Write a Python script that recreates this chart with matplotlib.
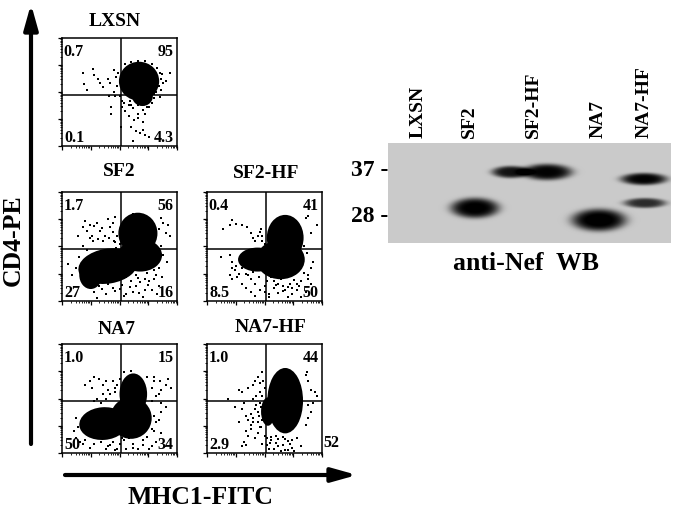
import numpy as np
import matplotlib
matplotlib.use("Agg")
import matplotlib.pyplot as plt
from matplotlib.patches import Ellipse

plt.rcParams['font.family'] = ['Liberation Serif', 'DejaVu Serif']
plt.rcParams['font.weight'] = 'bold'

# nombres de los paneles y porcentajes de cada cuadrante (UL, UR, LL, LR)
panel_names = ["LXSN", "SF2", "SF2-HF", "NA7", "NA7-HF"]
pct_ul = ["0.7", "1.7", "0.4", "1.0", "1.0"]
pct_ur = ["95", "56", "41", "15", "44"]
pct_ll = ["0.1", "27", "8.5", "50", "2.9"]
pct_lr = ["4.3", "16", "50", "34", "52"]

# zonas densas de eventos: (centro x, centro y, ancho, alto, angulo), en % del panel
dense_lxsn = [(67, 60, 35, 36, 0), (70, 46, 18, 18, 0)]
dense_sf2 = [(66, 62, 34, 38, 0), (68, 42, 38, 30, 0), (40, 32, 52, 32, 10), (25, 24, 20, 26, 0)]
dense_sf2hf = [(68, 58, 32, 42, 0), (64, 38, 42, 36, 0), (44, 38, 34, 22, 0)]
dense_na7 = [(62, 54, 24, 38, 0), (60, 32, 36, 38, 0), (36, 27, 42, 30, 5)]
dense_na7hf = [(68, 48, 31, 60, 0), (53, 38, 12, 26, 0)]

lxsn_x = [18, 27, 28, 19, 22, 31, 33, 36, 40, 45, 47, 42, 45, 41, 46, 43, 43, 51, 60, 55, 58, 62, 66, 70, 74, 78, 63, 66,
          70, 60, 64, 68, 72, 70, 62, 76, 87, 94, 90, 86, 85, 88, 49, 48, 50, 52, 55, 60, 66, 72, 78, 83, 85, 86, 84, 80,
          58, 54, 52, 76, 80, 82, 72, 66, 59]
lxsn_y = [68, 71, 66, 57, 52, 62, 58, 55, 62, 70, 64, 58, 50, 46, 46, 36, 30, 18, 38, 32, 28, 35, 30, 33, 36, 40, 24, 26,
          22, 18, 14, 12, 10, 15, 5, 8, 67, 68, 60, 52, 45, 58, 68, 56, 46, 42, 76, 78, 79, 79, 76, 72, 68, 62, 56, 48,
          38, 40, 36, 36, 44, 50, 30, 38, 42]
sf2_x = [14, 18, 20, 22, 24, 26, 28, 30, 33, 35, 37, 40, 42, 44, 46, 24, 27, 31, 36, 41, 45, 18, 22, 15, 12, 9, 5, 88, 92,
         94, 90, 86, 88, 91, 84, 80, 87, 76, 72, 68, 64, 60, 56, 52, 48, 44, 40, 36, 32, 28, 30, 38, 46, 54, 62, 70, 78,
         84, 50, 58, 66, 74, 82, 35, 43, 51, 59, 67, 75, 83, 56, 64, 72, 80, 44, 48, 50, 47, 84, 86, 46, 62]
sf2_y = [60, 68, 73, 64, 70, 60, 69, 72, 64, 67, 60, 75, 68, 63, 77, 58, 55, 57, 55, 58, 55, 50, 47, 40, 30, 24, 34, 72,
         70, 60, 62, 50, 42, 36, 30, 28, 22, 18, 20, 17, 14, 18, 22, 15, 20, 12, 16, 18, 14, 8, 3, 6, 9, 5, 8, 4, 10,
         14, 11, 25, 21, 26, 24, 11, 24, 21, 13, 7, 15, 6, 6, 24, 10, 20, 72, 60, 52, 49, 66, 76, 54, 80]
sf2hf_x = [14, 20, 22, 25, 30, 35, 38, 40, 42, 44, 46, 48, 50, 12, 20, 22, 25, 24, 28, 26, 22, 30, 34, 38, 42, 46, 50, 54,
           58, 62, 66, 70, 74, 78, 82, 86, 88, 90, 92, 87, 84, 96, 90, 86, 88, 30, 34, 38, 42, 45, 52, 56, 60, 64, 68, 72,
           76, 80, 50, 54, 58, 62, 66, 70, 74, 78, 82, 20, 22, 36, 40, 84, 88, 55, 65, 75, 50, 48, 47, 90]
sf2hf_y = [66, 70, 74, 71, 70, 68, 62, 58, 55, 60, 63, 55, 52, 40, 42, 36, 32, 28, 25, 22, 20, 16, 12, 8, 5, 10, 14, 6,
           12, 16, 9, 13, 6, 10, 4, 8, 24, 30, 36, 44, 50, 70, 62, 76, 78, 30, 25, 20, 16, 22, 18, 22, 15, 20, 10, 16,
           19, 14, 8, 4, 18, 7, 14, 4, 12, 16, 18, 24, 30, 24, 27, 26, 20, 27, 24, 25, 26, 60, 66, 16]
na7_x = [20, 24, 26, 28, 32, 38, 36, 40, 44, 46, 48, 42, 36, 30, 38, 34, 28, 86, 92, 95, 90, 85, 80, 78, 82, 86, 90, 86, 12,
         14, 10, 12, 16, 18, 20, 24, 28, 34, 38, 42, 46, 50, 54, 58, 62, 66, 70, 74, 78, 82, 86, 80, 82, 78, 40, 44, 48,
         56, 60, 64, 52, 62, 70, 76, 80, 84, 50, 54, 60, 46, 80, 84, 78, 74]
na7_y = [62, 66, 60, 70, 68, 66, 62, 58, 66, 56, 62, 54, 54, 50, 50, 46, 48, 58, 68, 60, 62, 66, 70, 60, 52, 46, 42, 38, 32,
         24, 20, 14, 10, 8, 12, 5, 8, 10, 4, 7, 3, 8, 12, 14, 8, 4, 12, 15, 6, 10, 18, 34, 28, 22, 6, 10, 4, 4, 15, 16, 14,
         5, 7, 4, 20, 30, 68, 74, 75, 60, 66, 54, 48, 70]
na7hf_x = [18, 28, 30, 32, 24, 36, 42, 40, 44, 46, 48, 38, 42, 46, 30, 34, 36, 38, 40, 44, 34, 36, 32, 30, 34, 42, 44, 46,
           38, 28, 40, 48, 50, 47, 43, 86, 88, 90, 94, 96, 92, 90, 88, 86, 87, 52, 55, 58, 62, 66, 70, 74, 78, 54, 60, 64,
           68, 72, 76, 56, 62, 68, 74, 82, 52, 56, 60, 66, 70, 48, 43, 40, 45, 50, 48, 46, 44, 88, 49, 47]
na7hf_y = [50, 58, 56, 46, 42, 60, 66, 62, 70, 64, 74, 36, 40, 46, 40, 34, 30, 26, 32, 38, 20, 16, 10, 6, 7, 14, 18, 24,
           22, 28, 50, 52, 60, 42, 52, 72, 66, 58, 56, 52, 46, 38, 32, 26, 74, 14, 9, 4, 13, 7, 11, 5, 14, 4, 16, 2, 13,
           8, 2, 12, 6, 3, 12, 6, 7, 15, 9, 15, 3, 30, 44, 28, 34, 16, 8, 56, 28, 44, 66, 24]

events_x = [lxsn_x, sf2_x, sf2hf_x, na7_x, na7hf_x]
events_y = [lxsn_y, sf2_y, sf2hf_y, na7_y, na7hf_y]
dense = [dense_lxsn, dense_sf2, dense_sf2hf, dense_na7, dense_na7hf]

# western blot: carriles y pesos
lane_names = ["LXSN", "SF2", "SF2-HF", "NA7", "NA7-HF"]
lane_pos = [418, 469, 533, 598, 644]
mw_labels = ["37 -", "28 -"]
mw_pos = [170, 216]
# bandas: centro x, centro y, semi ancho, semi alto, intensidad (pixeles de la imagen)
band_x = [511, 547, 475, 599, 644, 645]
band_y = [172, 172, 208, 220, 179, 203]
band_w = [19, 25, 24, 27, 23, 21]
band_h = [6, 8, 10, 11, 6, 5]
band_i = [0.72, 0.78, 0.8, 0.82, 0.78, 0.62]

W, H = 674, 511
fig = plt.figure(figsize=(W / 100, H / 100), dpi=100)

# capa general en pixeles para texto y flechas
bg = fig.add_axes([0, 0, 1, 1])
bg.set_xlim(0, W)
bg.set_ylim(H, 0)
bg.axis('off')

# posicion de cada panel (izq, arriba, ancho, alto)
boxes = [(62, 38, 115, 108), (62, 192, 115, 109), (207, 192, 115, 109), (62, 344, 115, 109), (207, 344, 115, 109)]
title_xy = [(115, 21), (119, 172), (266, 173), (117, 329), (271, 328)]

# ticks tipo log de citometria
decades = [0, 25, 50, 75]
minor = [d + 25 * np.log10(k) for d in decades for k in range(2, 10)]

for i in range(5):
    x0, y0, w, h = boxes[i]
    ax = fig.add_axes([x0 / W, 1 - (y0 + h) / H, w / W, h / H])
    ax.set_xlim(0, 100)
    ax.set_ylim(0, 100)
    for e in dense[i]:
        ax.add_patch(Ellipse((e[0], e[1]), e[2], e[3], angle=e[4], fc='black', ec='none', zorder=2))
    ax.scatter(events_x[i], events_y[i], s=1.6, c='black', marker='s', linewidths=0, zorder=2)
    ax.axvline(51, color='black', lw=1.1, zorder=3)
    ax.axhline(47.5, color='black', lw=1.1, zorder=3)
    ax.set_xticks(decades + [100])
    ax.set_yticks(decades + [100])
    ax.set_xticks(minor, minor=True)
    ax.set_yticks(minor, minor=True)
    ax.set_xticklabels([])
    ax.set_yticklabels([])
    ax.tick_params(which='major', length=3, width=0.9, direction='out')
    ax.tick_params(which='minor', length=1.5, width=0.6, direction='out')
    for s in ax.spines.values():
        s.set_linewidth(1.1)
    ax.text(1.5, 87, pct_ul[i], fontsize=11.5, va='center', ha='left')
    ax.text(97, 87, pct_ur[i], fontsize=11.5, va='center', ha='right')
    ax.text(2, 7, pct_ll[i], fontsize=11.5, va='center', ha='left')
    if i == 4:
        # este valor queda fuera del panel
        ax.text(101, 9, pct_lr[i], fontsize=11.5, va='center', ha='left', clip_on=False)
    else:
        ax.text(97, 7, pct_lr[i], fontsize=11.5, va='center', ha='right')
    bg.text(title_xy[i][0], title_xy[i][1], panel_names[i], fontsize=14, ha='center', va='center')

# flechas de los ejes
bg.annotate('', xy=(31, 4), xytext=(31, 444),
            arrowprops=dict(arrowstyle='-|>,head_length=1.5,head_width=0.42', lw=3, color='black', shrinkA=0, shrinkB=0))
bg.annotate('', xy=(357, 475), xytext=(65, 475),
            arrowprops=dict(arrowstyle='-|>,head_length=1.5,head_width=0.42', lw=3, color='black', shrinkA=0, shrinkB=0))
bg.text(13, 240, "CD4-PE", fontsize=18.5, rotation=90, ha='center', va='center')
bg.text(200, 498, "MHC1-FITC", fontsize=18.5, ha='center', va='center')

# blot como imagen en escala de grises
blot_l, blot_r, blot_t, blot_b = 388, 671, 143, 243
bx, by = np.meshgrid(np.arange(blot_l, blot_r) + 0.5, np.arange(blot_t, blot_b) + 0.5)
blot = np.full(bx.shape, 0.79)
for k in range(len(band_x)):
    d = ((bx - band_x[k]) / band_w[k]) ** 2 + ((by - band_y[k]) / band_h[k]) ** 2
    blot -= band_i[k] * np.exp(-d ** 2.2)
blot = np.clip(blot, 0, 1)
bg.imshow(blot, cmap='gray', vmin=0, vmax=1, extent=(blot_l, blot_r, blot_b, blot_t), aspect='auto', zorder=1)
bg.set_xlim(0, W)
bg.set_ylim(H, 0)

for i in range(len(lane_names)):
    bg.text(lane_pos[i], 138, lane_names[i], fontsize=14, rotation=90, ha='center', va='bottom')
for i in range(len(mw_labels)):
    bg.text(388, mw_pos[i], mw_labels[i], fontsize=17, ha='right', va='center')
bg.text(526, 263, "anti-Nef  WB", fontsize=18.5, ha='center', va='center')

fig.savefig("out.png", dpi=100)
